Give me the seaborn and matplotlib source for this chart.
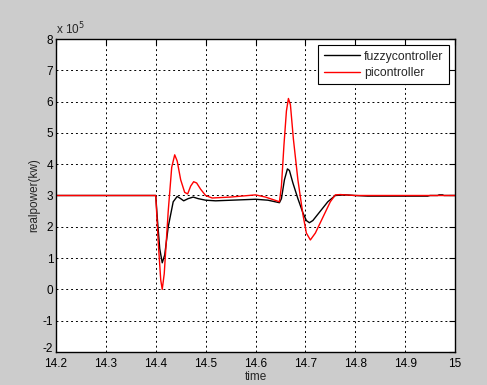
import numpy as np
import pandas as pd
import matplotlib
matplotlib.use("Agg")
import matplotlib.pyplot as plt
import matplotlib.transforms as mtransforms
import seaborn as sns
from matplotlib.lines import Line2D

# values in units of 1e5 kW
t_fuzzy = [14.2, 14.4, 14.403, 14.408, 14.413, 14.418, 14.425, 14.435, 14.443, 14.45, 14.456,
           14.465, 14.475, 14.485, 14.5, 14.52, 14.6, 14.625, 14.648, 14.652, 14.658, 14.664,
           14.668, 14.675, 14.685, 14.695, 14.702, 14.708, 14.715, 14.73, 14.745, 14.76, 14.78,
           14.8, 14.825, 14.945, 14.95, 14.965, 14.968, 14.975, 14.978, 15.0]
p_fuzzy = [3.0, 3.0, 2.3, 1.3, 0.85, 1.1, 2.0, 2.8, 2.97, 2.9, 2.83,
           2.9, 2.95, 2.9, 2.85, 2.83, 2.88, 2.85, 2.77, 2.9, 3.5, 3.85,
           3.8, 3.4, 2.9, 2.45, 2.2, 2.13, 2.2, 2.5, 2.8, 3.0, 3.02,
           3.0, 2.98, 2.98, 3.0, 3.0, 3.02, 3.02, 3.0, 3.0]

t_pi = [14.2, 14.4, 14.405, 14.41, 14.413, 14.417, 14.425, 14.432, 14.438, 14.443, 14.45,
        14.458, 14.464, 14.47, 14.476, 14.482, 14.49, 14.5, 14.513, 14.55, 14.6, 14.62,
        14.648, 14.652, 14.657, 14.662, 14.666, 14.67, 14.676, 14.685, 14.695, 14.702,
        14.71, 14.72, 14.735, 14.75, 14.76, 14.77, 14.78, 14.8, 15.0]
p_pi = [3.0, 3.0, 1.5, 0.3, 0.0, 0.5, 2.5, 3.9, 4.3, 4.1, 3.5,
        3.1, 3.05, 3.3, 3.44, 3.4, 3.2, 3.0, 2.92, 2.95, 3.02, 2.95,
        2.8, 3.3, 4.6, 5.7, 6.1, 5.9, 4.8, 3.5, 2.4, 1.8,
        1.58, 1.8, 2.3, 2.8, 3.02, 3.03, 3.02, 3.0, 3.0]

labels = ["fuzzycontroller", "picontroller"]
x_ticks = [14.2, 14.3, 14.4, 14.5, 14.6, 14.7, 14.8, 14.9, 15.0]
x_tick_labels = ["14.2", "14.3", "14.4", "14.5", "14.6", "14.7", "14.8", "14.9", "15"]
y_ticks = [-2, -1, 0, 1, 2, 3, 4, 5, 6, 7, 8]

df = pd.concat([
    pd.DataFrame({"time": t_fuzzy, "power": np.array(p_fuzzy) * 1e5, "ctrl": labels[0]}),
    pd.DataFrame({"time": t_pi, "power": np.array(p_pi) * 1e5, "ctrl": labels[1]}),
])

sns.set_style("white")
plt.rcParams["font.family"] = ["Liberation Sans", "DejaVu Sans"]

fig = plt.figure(figsize=(4.87, 3.85), dpi=100, facecolor="#cccccc")
ax = fig.add_axes([56/487, 1-352/385, (455-56)/487, (352-39)/385])
sns.lineplot(data=df, x="time", y="power", hue="ctrl", palette={labels[0]: "black", labels[1]: "red"},
             linewidth=1.0, ax=ax, legend=False, estimator=None, sort=False)

ax.set_xlim(14.2, 15.0)
ax.set_ylim(-2e5, 8e5)
ax.set_xticks(x_ticks)
ax.set_xticklabels(x_tick_labels)
ax.set_yticks([v * 1e5 for v in y_ticks])
ax.set_yticklabels([str(v) for v in y_ticks])
ax.text(0.0, 1.005, r"x 10$^5$", transform=ax.transAxes, fontsize=8.5, ha="left", va="bottom")

ax.grid(True, color="black", linestyle=(0, (2, 3)), linewidth=0.7)
for s in ax.spines.values():
    s.set_color("black")
    s.set_linewidth(1.0)
ax.tick_params(direction="in", length=4, top=True, right=True, labelsize=8.5, colors="black")
ax.tick_params(axis="x", pad=4)
ax.tick_params(axis="y", pad=2)
# nudge the lowest y label up a little (as in the reference it sits just above the corner)
lowest = ax.get_yticklabels()[0]
lowest.set_transform(lowest.get_transform() + mtransforms.ScaledTranslation(0, 3/72, fig.dpi_scale_trans))
ax.set_xlabel("time", fontsize=8.5, labelpad=1)
ax.set_ylabel("realpower(kw)", fontsize=8.5, labelpad=2)

handles = [Line2D([], [], color="black", lw=1), Line2D([], [], color="red", lw=1)]
leg = ax.legend(handles, labels, loc="upper right", fontsize=8.8, frameon=True, fancybox=False,
                edgecolor="black", framealpha=1, borderaxespad=0.5, handlelength=2.95,
                handletextpad=0.35, labelspacing=0.35, borderpad=0.45)
leg.get_frame().set_linewidth(0.8)

fig.savefig("out.png", dpi=100, facecolor=fig.get_facecolor())
